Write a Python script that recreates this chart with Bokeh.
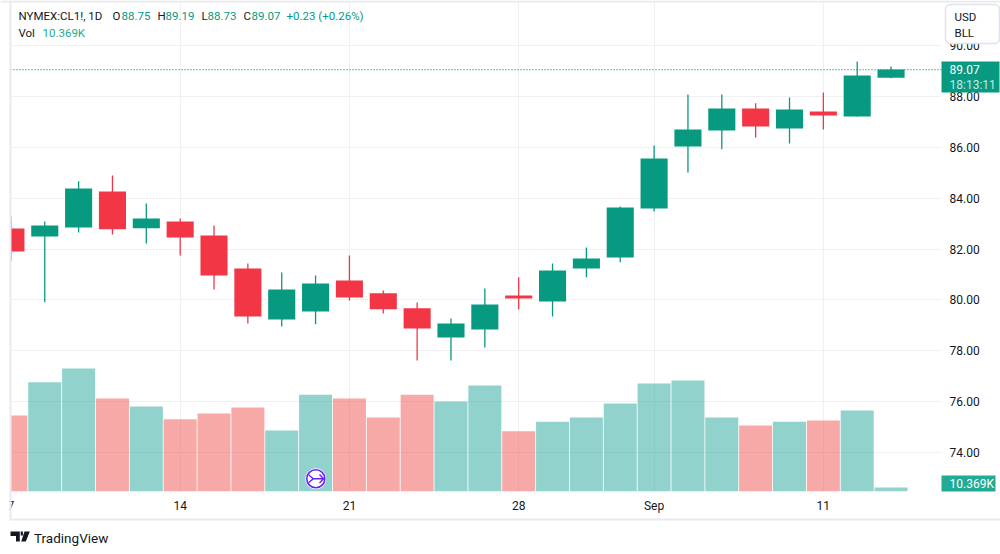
from bokeh.plotting import figure
from bokeh.embed import file_html
from bokeh.resources import INLINE
from bokeh.layouts import column
from bokeh.models import ColumnDataSource, Range1d, FixedTicker, NumeralTickFormatter, Span
from bokeh.core.properties import value

tick_positions = [0, 5, 10, 15, 19, 24]
tick_labels = ["7", "14", "21", "28", "Sep", "11"]
price_ticks = [74, 76, 78, 80, 82, 84, 86, 88, 90]

opens = [82.81, 82.50, 82.85, 84.27, 82.82, 83.09, 82.54, 81.24, 79.23, 79.55, 80.77, 80.26, 79.67,
         78.52, 78.84, 80.18, 79.94, 81.24, 81.67, 83.60, 86.04, 86.67, 87.54, 86.75, 87.42, 87.22, 88.75]
highs = [83.29, 83.09, 84.67, 84.90, 83.80, 83.21, 82.93, 81.44, 81.08, 80.96, 81.75, 80.37, 79.90,
         79.27, 80.45, 80.89, 81.44, 82.07, 83.68, 86.08, 88.09, 88.09, 87.74, 87.97, 88.17, 89.39, 89.19]
lows = [81.52, 79.91, 82.66, 82.58, 82.22, 81.75, 80.41, 79.07, 78.96, 79.04, 79.98, 79.47, 77.62,
        77.62, 78.13, 79.63, 79.35, 80.89, 81.48, 83.48, 85.02, 85.93, 86.40, 86.16, 86.71, 87.22, 88.73]
closes = [81.91, 82.93, 84.39, 82.78, 83.21, 82.46, 80.96, 79.35, 80.41, 80.65, 80.10, 79.63, 78.88,
          79.07, 79.82, 80.06, 81.16, 81.63, 83.64, 85.57, 86.71, 87.54, 86.83, 87.50, 87.26, 88.84, 89.07]
volumes = [197, 283, 319, 241, 220, 187, 202, 218, 158, 251, 241, 192, 251,
           233, 275, 156, 181, 192, 228, 280, 288, 192, 171, 181, 184, 210, 10.369]

UP, DOWN = "#089981", "#f23645"
VOL_UP, VOL_DOWN = "#26a69a", "#ef5350"
TEXT = "#131722"
FONT = "Roboto"
FSIZE = "11.5px"
FRAME = "#e9e9f0"
last_close = closes[-1]

idx = list(range(len(opens)))
src = ColumnDataSource(dict(
    i=idx, o=opens, h=highs, l=lows, c=closes, v=volumes,
    top=[max(a, b) for a, b in zip(opens, closes)],
    bot=[min(a, b) for a, b in zip(opens, closes)],
    col=[UP if c >= o else DOWN for o, c in zip(opens, closes)],
    vcol=[VOL_UP if c >= o else VOL_DOWN for o, c in zip(opens, closes)],
))

p = figure(width=1000, height=554, output_backend="svg", toolbar_location=None,
           x_range=Range1d(-0.012, 27.49), y_range=Range1d(72.46, 91.71),
           min_border_left=10, min_border_right=59, min_border_top=2, min_border_bottom=63,
           y_axis_location="right", outline_line_color=None)
p.frame_align = False
p.background_fill_color = "white"
p.border_fill_color = "white"
p.extra_y_ranges = {"vol": Range1d(0, 1267.5)}

p.xgrid.ticker = FixedTicker(ticks=tick_positions)
p.ygrid.ticker = FixedTicker(ticks=price_ticks)
p.xgrid.grid_line_color = "#f0f0f3"
p.ygrid.grid_line_color = "#f0f0f3"

xa = p.xaxis[0]
xa.ticker = FixedTicker(ticks=tick_positions)
xa.major_label_overrides = dict(zip(tick_positions, tick_labels))
ya = p.yaxis[0]
ya.ticker = FixedTicker(ticks=price_ticks)
ya.formatter = NumeralTickFormatter(format="0.00")
for ax, standoff in ((xa, 7), (ya, 8)):
    ax.axis_line_color = None
    ax.major_tick_line_color = None
    ax.minor_tick_line_color = None
    ax.major_tick_out = 0
    ax.major_label_standoff = standoff
    ax.major_label_text_font = FONT
    ax.major_label_text_font_size = "12px"
    ax.major_label_text_color = TEXT

p.vbar(x="i", top="v", bottom=0, width=0.975, source=src, y_range_name="vol",
       fill_color="vcol", fill_alpha=0.5, line_color=None)
p.segment(x0="i", x1="i", y0="l", y1="h", source=src, line_color="col", line_width=1.3)
p.vbar(x="i", top="top", bottom="bot", width=0.8, source=src, fill_color="col", line_color=None)
p.add_layout(Span(location=last_close, dimension="width", line_color=UP, line_width=1.2, line_dash="1 2"))

# transparent sheet above the chart for the widget's chrome (its axes run in page pixels)
o = figure(width=1000, height=554, output_backend="svg", toolbar_location=None,
           x_range=Range1d(0, 1000), y_range=Range1d(554, 0), min_border=0,
           x_axis_location=None, y_axis_location=None, outline_line_color=None,
           margin=(-554, 0, 0, 0))
o.frame_align = False
o.background_fill_color = None
o.border_fill_color = None
o.grid.visible = False


def box(l, t, r, b, fill, line=None, radius=0, lw=1):
    o.quad(left=[l], right=[r], top=[t], bottom=[b], fill_color=fill, line_color=line, line_width=lw,
           border_radius=radius)


def poly(xs, ys, fill):
    o.patch(xs, ys, fill_color=fill, line_color=None)


def text(x, y, s, color=TEXT, size=FSIZE):
    o.text([x], [y], text=[s], text_color=color, text_font=value(FONT), text_font_size=size,
           text_baseline="middle", text_align="left")


# frame of the widget
box(0, 491, 9, 519, "white")
box(0, 0, 1000, 2, FRAME)
box(9, 0, 11, 519, FRAME)
box(9, 518, 1000, 520, FRAME)

# legend
text(18, 15, "NYMEX:CL1!, 1D")
text(112, 15, "O"); text(121, 15, f"{opens[-1]:.2f}", UP)
text(157, 15, "H"); text(165, 15, f"{highs[-1]:.2f}", UP)
text(201, 15, "L"); text(207, 15, f"{lows[-1]:.2f}", UP)
text(243, 15, "C"); text(251, 15, f"{closes[-1]:.2f}", UP)
text(286, 15, "+0.23 (+0.26%)", UP)
text(18, 32, "Vol"); text(42, 32, "10.369K", "#22ab94")

# currency / unit button
box(945, 4, 999, 43, "white", "#e0e3eb", 5, 1.5)
text(954, 16, "USD"); text(954, 32, "BLL")

# last-price and volume tags
box(941, 61, 999, 92, UP)
text(949, 69, f"{last_close:.2f}", "white", "12px")
text(949, 84, "18:13:11", "#c6e8e2", "12px")
box(941, 475, 995, 491, "#22ab94")
text(949, 483, "10.369K", "white", "12px")

# TradingView mark
poly([10, 19.3, 19.3, 15.5, 15.5, 10], [531, 531, 541, 541, 535.5, 535.5], TEXT)
poly([20.2, 22.4, 22.4, 20.2], [531, 531, 535, 535], TEXT)
poly([24, 29.3, 25.3, 20.7], [531, 531, 541, 541], TEXT)
text(33.5, 537, "TradingView", TEXT, "13.5px")

# round badge on the volume pane
o.scatter([315.3], [478.3], marker="circle", size=21, fill_color="white", line_color=None)
o.scatter([315.3], [478.3], marker="circle", size=18, fill_color="white", line_color="#6a1fff", line_width=1.6)
poly([308, 313, 323, 323, 313, 308, 308, 311.6, 308], [473.5, 477.5, 477.5, 479, 479, 483, 481.5, 478.2, 475], "#6a1fff")
poly([318.5, 319.5, 324, 319.5, 318.5, 322], [474.5, 473.5, 478.2, 483, 482, 478.2], "#6a1fff")

open("out.html", "w").write(file_html(column(p, o, spacing=0), INLINE))
